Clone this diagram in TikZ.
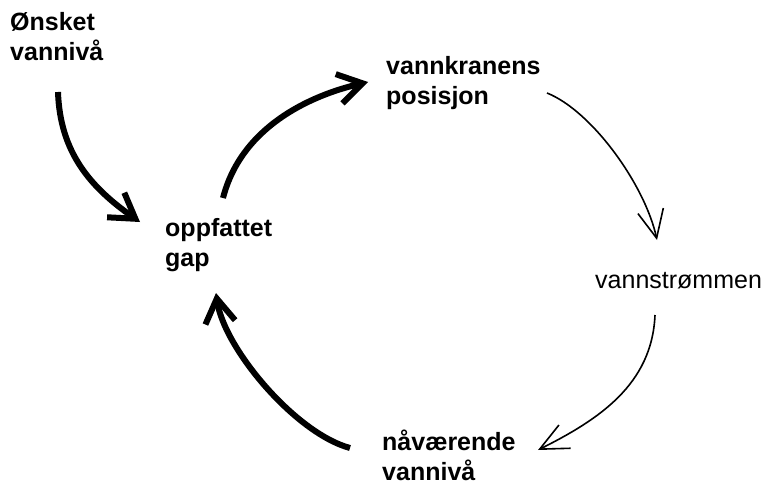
\documentclass[tikz,border=0pt]{standalone}
\usepackage{fontspec}
\setmainfont{Liberation Sans}
\usetikzlibrary{arrows.meta}

\begin{document}
\begin{tikzpicture}[x=1pt,y=-1pt,
    txt/.style={anchor=base west,inner sep=0pt,align=left,font=\fontsize{25}{30}\selectfont\bfseries},
    fat/.style={line width=6pt,-{Straight Barb[length=24pt,width=30pt]}},
    slim/.style={line width=1.6pt,-{Straight Barb[length=28pt,width=26pt]}}]
    \useasboundingbox (0,0) rectangle (767,484);
    % Goal and the states in the loop (placed by their last line)
    \node[txt] (onsket) at (10,61) {Ønsket\\vannivå};
    \node[txt] (kran) at (386,105) {vannkranens\\posisjon};
    \node[txt] (gap) at (165,266) {oppfattet\\gap};
    \node[txt,font=\fontsize{25}{30}\selectfont] (strom) at (595,288) {vannstrømmen};
    \node[txt] (niva) at (382,480) {nåværende\\vannivå};
    % Thick arrows: goal and gap
    \draw[fat] ([shift={(48,31)}]onsket.base west) .. controls +(2,60) and +(-50,-35) .. ([shift={(-25,-44)}]gap.base west);
    \draw[fat] ([shift={(58,-68)}]gap.base west) .. controls +(18,-70) and +(-60,14) .. ([shift={(-18,-23)}]kran.base west);
    \draw[fat] ([shift={(-32,-32)}]niva.base west) .. controls +(-55,-15) and +(8,55) .. ([shift={(51,27)}]gap.base west);
    % Thin arrows: physical flow
    \draw[slim] ([shift={(161,-12)}]kran.base west) .. controls +(45,18) and +(-12,-55) .. ([shift={(62,-48)}]strom.base west);
    \draw[slim] ([shift={(60,27)}]strom.base west) .. controls +(-3,70) and +(60,-30) .. ([shift={(156,-30)}]niva.base west);
\end{tikzpicture}
\end{document}
